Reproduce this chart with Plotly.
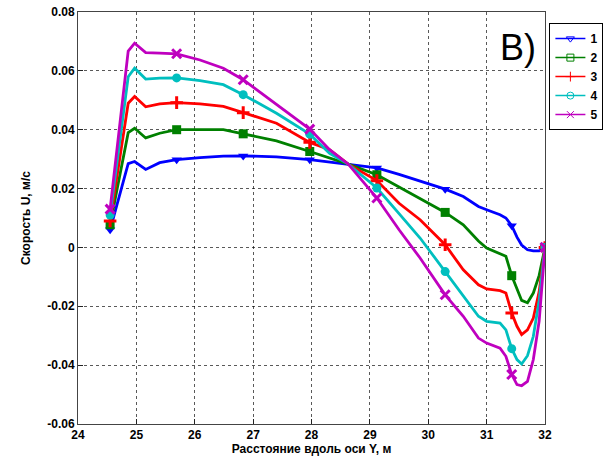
import plotly.graph_objects as go

x_vals = [24.55, 24.86, 24.97, 25.16, 25.40, 25.69, 26.09, 26.49, 26.83, 27.40,
          27.97, 28.31, 28.63, 29.12, 29.50, 29.86, 30.29, 30.60, 30.86, 31.00,
          31.23, 31.33, 31.43, 31.52, 31.60, 31.70, 31.80, 31.90, 32.00]

u1 = [0.0060, 0.0285, 0.0292, 0.0265, 0.0288, 0.0298, 0.0305, 0.0310, 0.0311, 0.0308,
      0.0298, 0.0290, 0.0283, 0.0270, 0.0248, 0.0226, 0.0198, 0.0173, 0.0139, 0.0128,
      0.0111, 0.0100, 0.0074, 0.0035, 0.0008, -0.0008, -0.0012, -0.0012, 0.0]
u2 = [0.0077, 0.0390, 0.0405, 0.0372, 0.0388, 0.0400, 0.0400, 0.0400, 0.0386, 0.0362,
      0.0326, 0.0304, 0.0283, 0.0247, 0.0205, 0.0168, 0.0119, 0.0077, 0.0022, -0.0002,
      -0.0020, -0.0030, -0.0096, -0.0144, -0.0180, -0.0188, -0.0155, -0.0095, 0.0]
u3 = [0.0090, 0.0490, 0.0513, 0.0478, 0.0488, 0.0492, 0.0488, 0.0479, 0.0458, 0.0422,
      0.0357, 0.0332, 0.0283, 0.0227, 0.0150, 0.0094, 0.0009, -0.0076, -0.0127, -0.0141,
      -0.0147, -0.0155, -0.0223, -0.0268, -0.0296, -0.0280, -0.0240, -0.0150, 0.0]
u4 = [0.0110, 0.0580, 0.0609, 0.0572, 0.0575, 0.0576, 0.0567, 0.0553, 0.0519, 0.0456,
      0.0385, 0.0320, 0.0283, 0.0202, 0.0115, 0.0032, -0.0082, -0.0166, -0.0234, -0.0251,
      -0.0257, -0.0280, -0.0344, -0.0381, -0.0396, -0.0368, -0.0302, -0.0180, 0.0]
u5 = [0.0130, 0.0667, 0.0694, 0.0662, 0.0660, 0.0658, 0.0637, 0.0609, 0.0570, 0.0485,
      0.0402, 0.0332, 0.0283, 0.0168, 0.0060, -0.0036, -0.0161, -0.0234, -0.0308, -0.0325,
      -0.0342, -0.0370, -0.0432, -0.0466, -0.0470, -0.0455, -0.0381, -0.0250, 0.0]

marker_idx = [0, 5, 8, 10, 13, 16, 22, 28]

series_names = ["1", "2", "3", "4", "5"]
series_vals = [u1, u2, u3, u4, u5]
colors = ["#0000FF", "#008000", "#FF0000", "#00BFBF", "#BF00BF"]
symbols = ["triangle-down", "square", "cross-thin", "circle", "x-thin"]
legend_symbols = ["triangle-down-open", "square-open", "cross-thin-open", "circle-open", "x-thin-open"]

x_ticks = [24, 25, 26, 27, 28, 29, 30, 31, 32]
y_ticks = [0.08, 0.06, 0.04, 0.02, 0, -0.02, -0.04, -0.06]
y_tick_labels = ["0.08", "0.06", "0.04", "0.02", "0", "-0.02", "-0.04", "-0.06"]

fig = go.Figure()
for name, vals, col, sym in zip(series_names, series_vals, colors, symbols):
    fig.add_trace(go.Scatter(x=x_vals, y=vals, mode="lines",
                             line=dict(color=col, width=2.8),
                             showlegend=False, hoverinfo="skip"))
    thin = sym.endswith("thin")
    fig.add_trace(go.Scatter(x=[x_vals[i] for i in marker_idx],
                             y=[vals[i] for i in marker_idx],
                             mode="markers",
                             marker=dict(symbol=sym, color=col, size=9 if thin else 9,
                                         line=dict(color=col, width=3 if thin else 0)),
                             showlegend=False, hoverinfo="skip"))
for name, col, sym in zip(series_names, colors, legend_symbols):
    fig.add_trace(go.Scatter(x=[None], y=[None], mode="lines+markers", name="<b>%s</b>" % name,
                             line=dict(color=col, width=1.5),
                             marker=dict(symbol=sym, color=col, size=7,
                                         line=dict(color=col, width=1))))

fig.add_annotation(text="В)", xref="paper", yref="paper", x=0.900, y=0.915,
                   xanchor="left", yanchor="middle", showarrow=False,
                   font=dict(family="Liberation Sans", size=36, color="black"))

axis_common = dict(showline=True, linecolor="#444", linewidth=1, mirror=True,
                   ticks="inside", ticklen=5, tickcolor="#222",
                   showgrid=True, gridcolor="rgba(0,0,0,0.65)", gridwidth=1, griddash="dot",
                   zeroline=False,
                   tickfont=dict(family="Liberation Sans", size=12, color="black"))

fig.update_xaxes(range=[24, 32], tickvals=x_ticks,
                 ticktext=["<b>%d</b>" % t for t in x_ticks],
                 title=dict(text="<b>Расстояние вдоль оси Y, м</b>", standoff=2,
                            font=dict(family="Liberation Sans", size=12, color="black")),
                 **axis_common)
fig.update_yaxes(range=[-0.06, 0.08], tickvals=y_ticks,
                 ticktext=["<b>%s</b>" % t for t in y_tick_labels],
                 title=dict(text="<b>Скорость U, м/с</b>", standoff=14,
                            font=dict(family="Liberation Sans", size=12, color="black")),
                 **axis_common)

fig.update_layout(width=604, height=461,
                  margin=dict(l=78, r=59, t=12, b=37, autoexpand=False),
                  plot_bgcolor="white", paper_bgcolor="white",
                  legend=dict(x=0.999, xref="container", xanchor="right", y=0.973, yanchor="top",
                              bordercolor="black", borderwidth=1, bgcolor="white",
                              font=dict(family="Liberation Sans", size=12, color="black"),
                              itemwidth=30, tracegroupgap=0))
fig.write_html("out.html")
